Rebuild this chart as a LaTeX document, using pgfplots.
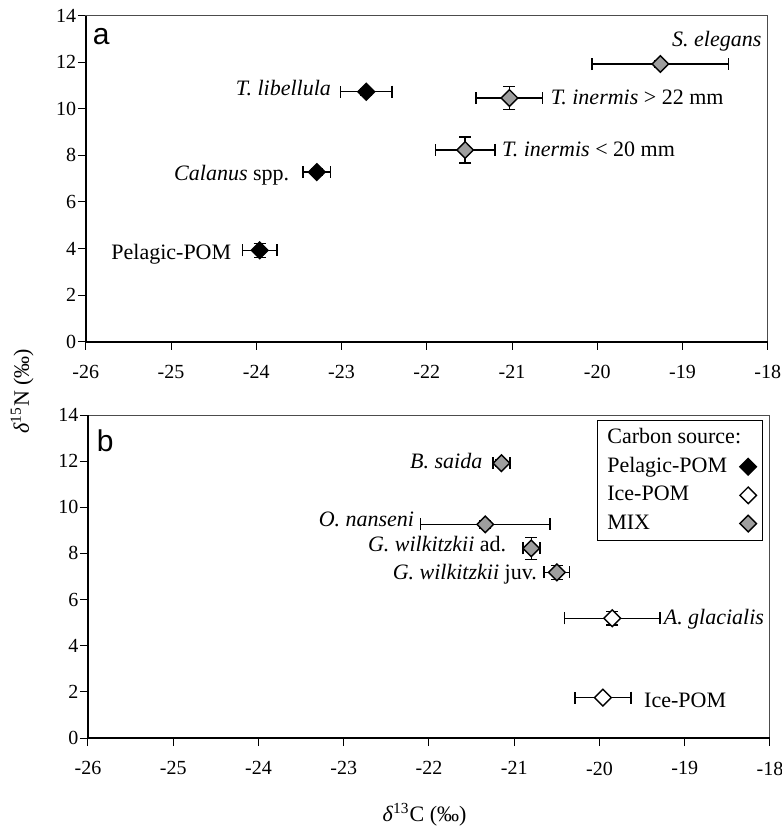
\documentclass[border=0pt]{standalone}
\usepackage{pgfplots}
\pgfplotsset{compat=1.18}
\usepackage{fontspec}
\setmainfont{Liberation Serif}
\newfontfamily\panelfont{Liberation Sans}

\definecolor{mixgray}{gray}{0.62}

\pgfplotsset{
  isoplot/.style={
    width=341pt, scale only axis,
    xmin=-26, xmax=-18, ymin=0, ymax=14,
    xtick={-26,-25,...,-18}, ytick={0,2,...,14},
    tick align=outside, xtick pos=bottom, ytick pos=left,
    major tick length=4pt,
    tick style={line width=0.5pt, black},
    axis line style={line width=0.5pt, black!70},
    /pgf/number format/assume math mode=true,
    ticklabel style={font=\fontsize{10}{12}\selectfont},
    xticklabel style={yshift=-4pt},
    yticklabel style={xshift=3pt},
    clip=false,
  },
  mk/.style={only marks, mark=diamond*, mark size=4.15pt,
    mark options={xscale=1.333, line width=0.7pt, draw=black, fill=#1}},
  src/.style={mk=#1,
    error bars/x dir=both, error bars/x explicit,
    error bars/y dir=both, error bars/y explicit,
    error bars/error bar style={line width=0.75pt, black},
    error bars/error mark options={rotate=90, line width=0.75pt, mark size=3pt, black}},
}

\begin{document}
\fontsize{11}{13}\selectfont
\begin{tikzpicture}
\path[use as bounding box] (-44pt,-44.5pt) rectangle (347pt,369pt);

% panel a
\begin{axis}[isoplot, height=163pt, at={(-1.1pt,198.2pt)}, anchor=south west]
\addplot[src=black] coordinates {
  (-23.96,3.92) +- (0.20,0.30)
  (-23.29,7.28) +- (0.16,0.15)
  (-22.71,10.73) +- (0.30,0.15)
};
\addplot[src=mixgray] coordinates {
  (-21.55,8.23) +- (0.35,0.55)
  (-21.03,10.46) +- (0.39,0.50)
  (-19.26,11.92) +- (0.80,0.15)
};
\draw[line width=1pt] (rel axis cs:0,1) -- (rel axis cs:0,0) -- (rel axis cs:1,0);
\node[anchor=base west, inner sep=0, font=\panelfont\fontsize{15}{18}\selectfont]
  at ([xshift=3.3pt,yshift=-14.3pt]rel axis cs:0,1) {a};
\node[anchor=base east, inner sep=0] at (axis cs:-23.12,10.55) {\textit{T. libellula}};
\node[anchor=base east, inner sep=0] at (axis cs:-23.61,6.94) {\textit{Calanus} spp.};
\node[anchor=base east, inner sep=0] at (axis cs:-24.29,3.51) {Pelagic-POM};
\node[anchor=base east, inner sep=0] at (axis cs:-18.07,12.67) {\textit{S. elegans}};
\node[anchor=base west, inner sep=0] at (axis cs:-20.55,10.20) {\textit{T. inermis} > 22 mm};
\node[anchor=base west, inner sep=0] at (axis cs:-21.12,7.94) {\textit{T. inermis} < 20 mm};
\end{axis}

% panel b
\begin{axis}[isoplot, height=161.5pt, at={(0pt,0pt)}, anchor=south west,
  legend plot pos=right,
  legend style={at={(rel axis cs:1,1)}, anchor=north east, xshift=-3.5pt, yshift=-2.5pt,
    draw=black, line width=0.5pt, font=\fontsize{11}{13}\selectfont,
    cells={anchor=west}, row sep=1.2pt}]
\addplot[src=white, forget plot] coordinates {
  (-19.96,1.75) +- (0.33,0.12)
  (-19.85,5.19) +- (0.56,0.30)
};
\addplot[src=mixgray, forget plot] coordinates {
  (-21.15,11.91) +- (0.10,0.15)
  (-21.34,9.26) +- (0.76,0.15)
  (-20.80,8.22) +- (0.10,0.48)
  (-20.50,7.18) +- (0.15,0.30)
};
\addlegendimage{empty legend}
\addlegendentry{\makebox[0pt][l]{Carbon source:}}
\addlegendimage{mk=black}
\addlegendentry{Pelagic-POM}
\addlegendimage{mk=white}
\addlegendentry{Ice-POM}
\addlegendimage{mk=mixgray}
\addlegendentry{MIX}
\draw[line width=1pt] (rel axis cs:0,1) -- (rel axis cs:0,0) -- (rel axis cs:1,0);
\node[anchor=base west, inner sep=0, font=\panelfont\fontsize{15}{18}\selectfont]
  at ([xshift=4.2pt,yshift=-18.3pt]rel axis cs:0,1) {b};
\node[anchor=base east, inner sep=0] at (axis cs:-21.37,11.66) {\textit{B. saida}};
\node[anchor=base east, inner sep=0] at (axis cs:-22.17,9.16) {\textit{O. nanseni}};
\node[anchor=base east, inner sep=0] at (axis cs:-21.09,8.08) {\textit{G. wilkitzkii} ad.};
\node[anchor=base east, inner sep=0] at (axis cs:-20.73,6.88) {\textit{G. wilkitzkii} juv.};
\node[anchor=base west, inner sep=0] at (axis cs:-19.25,4.90) {\textit{A. glacialis}};
\node[anchor=base west, inner sep=0] at (axis cs:-19.48,1.33) {Ice-POM};
\end{axis}

\node[rotate=90] at (-32.9pt,173.3pt) {\textit{δ}\textsuperscript{15}N (‰)};
\node[anchor=base] at (168.3pt,-41.8pt) {\textit{δ}\textsuperscript{13}C (‰)};
\end{tikzpicture}
\end{document}
